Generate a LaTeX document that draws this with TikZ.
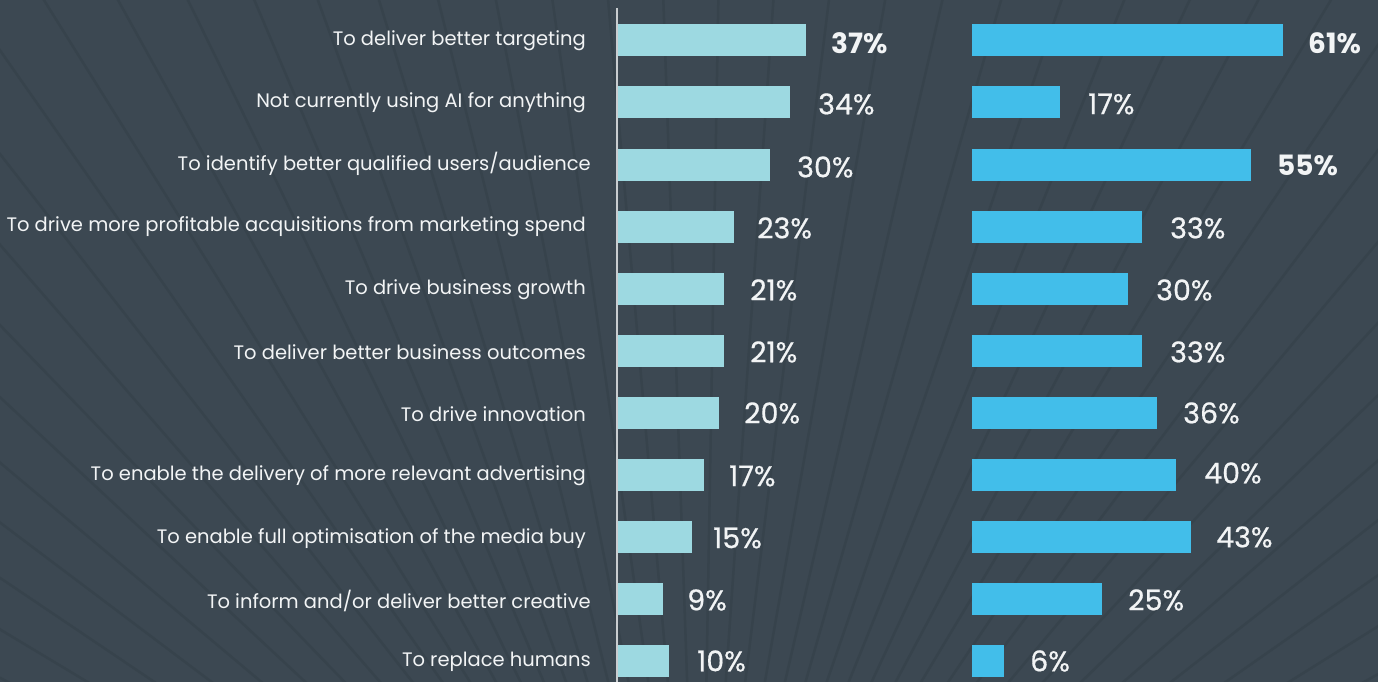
\documentclass[tikz,border=0pt]{standalone}
\usepackage{fontspec}
\setmainfont{Poppins}
\newfontfamily\pmed{Poppins}[FakeBold=0.6]
\definecolor{bg}{HTML}{3C4852}
\definecolor{bgline}{HTML}{37434C}
\definecolor{lightbar}{HTML}{9DD9E1}
\definecolor{bluebar}{HTML}{42BEEA}
\definecolor{txt}{HTML}{F2F4F5}
\definecolor{axis}{HTML}{C9CDD0}
\tikzset{
  lbar/.style={fill=lightbar, draw=none, inner sep=0pt, minimum height=32pt, anchor=west},
  rbar/.style={fill=bluebar, draw=none, inner sep=0pt, minimum height=32pt, anchor=west},
  lab/.style={text=txt, inner sep=0pt, anchor=east, font=\fontsize{19.5}{22}\selectfont},
  pct/.style={text=txt, inner sep=0pt, anchor=west, font=\pmed\fontsize{28.5}{31}\selectfont},
  pctb/.style={text=txt, inner sep=0pt, anchor=west, font=\fontsize{28}{31}\selectfont\bfseries},
}
\begin{document}
\begin{tikzpicture}[x=1pt,y=-1pt]
\path[fill=bg] (0,0) rectangle (1378,682);
\useasboundingbox (0,0) rectangle (1378,682);
\begin{scope}
\clip (0,0) rectangle (1378,682);
\foreach \a in {-76,-73,...,76}{
  \draw[bgline, line width=2.5pt] (700,1050) -- ++({90-\a}:-1600);
}
\end{scope}
% axis
\coordinate (axtop) at (617,8);
\coordinate (axbot) at (617,682);
\draw[axis, line width=1.6pt] (axtop) -- (axbot);
% rows
\node[lab] (l1) at (586,41) {To deliver better targeting};
\node[lab] (l2) at (586,103) {Not currently using AI for anything};
\node[lab] (l3) at (591,164) {To identify better qualified users/audience};
\node[lab] (l4) at (586,227) {To drive more profitable acquisitions from marketing spend};
\node[lab] (l5) at (586,290) {To drive business growth};
\node[lab] (l6) at (586,352) {To deliver better business outcomes};
\node[lab] (l7) at (586,414) {To drive innovation};
\node[lab] (l8) at (586,476) {To enable the delivery of more relevant advertising};
\node[lab] (l9) at (586,539) {To enable full optimisation of the media buy};
\node[lab] (l10) at (591,601) {To inform and/or deliver better creative};
\node[lab] (l11) at (591,662) {To replace humans};
% left bars
\node[lbar, minimum width=188pt] (a1) at (618,40.5) {};
\node[lbar, minimum width=172pt] (a2) at (618,102.5) {};
\node[lbar, minimum width=152pt] (a3) at (618,164.5) {};
\node[lbar, minimum width=116pt] (a4) at (618,226.5) {};
\node[lbar, minimum width=106pt] (a5) at (618,288.5) {};
\node[lbar, minimum width=106pt] (a6) at (618,350.5) {};
\node[lbar, minimum width=101pt] (a7) at (618,412.5) {};
\node[lbar, minimum width=86pt] (a8) at (618,474.5) {};
\node[lbar, minimum width=74pt] (a9) at (618,536.5) {};
\node[lbar, minimum width=45pt] (a10) at (618,598.5) {};
\node[lbar, minimum width=51pt] (a11) at (618,660.5) {};
% left values
\node[pctb] (p1) at (831,43) {37\%};
\node[pct] (p2) at (818,104) {34\%};
\node[pct] (p3) at (797,167) {30\%};
\node[pct] (p4) at (757,228) {23\%};
\node[pct] (p5) at (750,290) {21\%};
\node[pct] (p6) at (750,352) {21\%};
\node[pct] (p7) at (744,413) {20\%};
\node[pct] (p8) at (729,476) {17\%};
\node[pct] (p9) at (713,538) {15\%};
\node[pct] (p10) at (687,600) {9\%};
\node[pct] (p11) at (697,661) {10\%};
% right bars
\node[rbar, minimum width=311pt] (c1) at (972,40.5) {};
\node[rbar, minimum width=88pt] (c2) at (972,102.5) {};
\node[rbar, minimum width=279pt] (c3) at (972,164.5) {};
\node[rbar, minimum width=170pt] (c4) at (972,226.5) {};
\node[rbar, minimum width=156pt] (c5) at (972,288.5) {};
\node[rbar, minimum width=170pt] (c6) at (972,350.5) {};
\node[rbar, minimum width=185pt] (c7) at (972,412.5) {};
\node[rbar, minimum width=204pt] (c8) at (972,474.5) {};
\node[rbar, minimum width=219pt] (c9) at (972,536.5) {};
\node[rbar, minimum width=130pt] (c10) at (972,598.5) {};
\node[rbar, minimum width=32pt] (c11) at (972,660.5) {};
% right values
\node[pctb] (q1) at (1308,43) {61\%};
\node[pct] (q2) at (1088,104) {17\%};
\node[pctb] (q3) at (1277,165) {55\%};
\node[pct] (q4) at (1170,228) {33\%};
\node[pct] (q5) at (1156,290) {30\%};
\node[pct] (q6) at (1170,352) {33\%};
\node[pct] (q7) at (1183,413) {36\%};
\node[pct] (q8) at (1204,473) {40\%};
\node[pct] (q9) at (1216,537) {43\%};
\node[pct] (q10) at (1128,600) {25\%};
\node[pct] (q11) at (1030,661) {6\%};
\end{tikzpicture}
\end{document}
